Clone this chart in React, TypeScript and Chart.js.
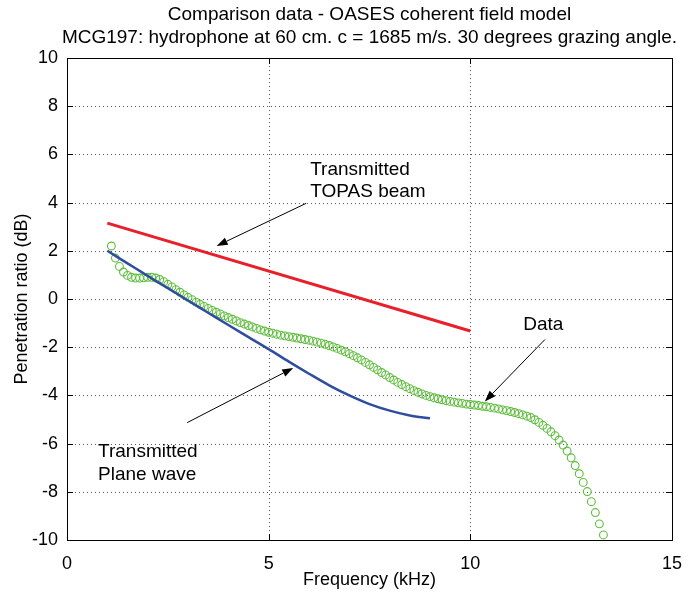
import React, { useEffect, useRef } from "react";
import { Chart, registerables } from "chart.js";

Chart.register(...registerables);

const TITLE_LINES = [
  "Comparison data - OASES coherent field model",
  "MCG197: hydrophone at 60 cm. c = 1685 m/s. 30 degrees grazing angle.",
];
const X_TITLE = "Frequency (kHz)";
const Y_TITLE = "Penetration ratio (dB)";

const X_MIN = 0, X_MAX = 15, X_STEP = 5;
const Y_MIN = -10, Y_MAX = 10, Y_STEP = 2;

// Measured data (green circles)
const dataFreq = [
  1.1, 1.2, 1.3, 1.4, 1.5, 1.6, 1.7, 1.8, 1.9, 2.0,
  2.1, 2.2, 2.3, 2.4, 2.5, 2.6, 2.7, 2.8, 2.9, 3.0,
  3.1, 3.2, 3.3, 3.4, 3.5, 3.6, 3.7, 3.8, 3.9, 4.0,
  4.1, 4.2, 4.3, 4.4, 4.5, 4.6, 4.7, 4.8, 4.9, 5.0,
  5.1, 5.2, 5.3, 5.4, 5.5, 5.6, 5.7, 5.8, 5.9, 6.0,
  6.1, 6.2, 6.3, 6.4, 6.5, 6.6, 6.7, 6.8, 6.9, 7.0,
  7.1, 7.2, 7.3, 7.4, 7.5, 7.6, 7.7, 7.8, 7.9, 8.0,
  8.1, 8.2, 8.3, 8.4, 8.5, 8.6, 8.7, 8.8, 8.9, 9.0,
  9.1, 9.2, 9.3, 9.4, 9.5, 9.6, 9.7, 9.8, 9.9, 10.0,
  10.1, 10.2, 10.3, 10.4, 10.5, 10.6, 10.7, 10.8, 10.9, 11.0,
  11.1, 11.2, 11.3, 11.4, 11.5, 11.6, 11.7, 11.8, 11.9, 12.0,
  12.1, 12.2, 12.3, 12.4, 12.5, 12.6, 12.7, 12.8, 12.9, 13.0,
  13.1, 13.2, 13.3,
];
const dataDb = [
  2.20, 1.70, 1.35, 1.12, 0.98, 0.90, 0.87, 0.87, 0.88, 0.90,
  0.90, 0.87, 0.81, 0.72, 0.61, 0.50, 0.39, 0.28, 0.17, 0.07,
  -0.03, -0.13, -0.22, -0.31, -0.39, -0.47, -0.55, -0.62, -0.70, -0.77,
  -0.84, -0.91, -0.98, -1.04, -1.10, -1.16, -1.22, -1.28, -1.33, -1.38,
  -1.42, -1.46, -1.50, -1.53, -1.56, -1.59, -1.62, -1.65, -1.68, -1.71,
  -1.75, -1.79, -1.83, -1.88, -1.93, -1.99, -2.05, -2.12, -2.19, -2.27,
  -2.35, -2.44, -2.53, -2.63, -2.73, -2.84, -2.94, -3.05, -3.15, -3.26,
  -3.36, -3.46, -3.55, -3.64, -3.72, -3.80, -3.87, -3.94, -4.00, -4.05,
  -4.10, -4.14, -4.18, -4.22, -4.25, -4.28, -4.31, -4.33, -4.36, -4.38,
  -4.40, -4.42, -4.45, -4.47, -4.50, -4.53, -4.56, -4.60, -4.63, -4.67,
  -4.71, -4.76, -4.81, -4.86, -4.92, -5.01, -5.12, -5.24, -5.37, -5.51,
  -5.67, -5.85, -6.06, -6.31, -6.59, -6.91, -7.25, -7.61, -7.99, -8.41,
  -8.86, -9.33, -9.79,
];

// Transmitted plane wave model (blue)
const planeFreq = [1.0, 1.5, 2.0, 2.5, 3.0, 3.5, 4.0, 4.5, 5.0, 5.5, 6.0, 6.5, 7.0, 7.5, 8.0, 8.5, 9.0];
const planeDb = [2.0, 1.48, 0.96, 0.45, -0.06, -0.57, -1.08, -1.58, -2.08, -2.6, -3.1, -3.58, -4.0, -4.36, -4.63, -4.83, -4.95];

// Transmitted TOPAS beam model (red)
const topasFreq = [1.0, 10.0];
const topasDb = [3.15, -1.33];

// Annotations (data coordinates)
const annoTexts = [
  { x: 6.03, y: 5.38, text: "Transmitted" },
  { x: 6.03, y: 4.43, text: "TOPAS beam" },
  { x: 0.77, y: -6.34, text: "Transmitted" },
  { x: 0.77, y: -7.3, text: "Plane wave" },
  { x: 11.31, y: -1.06, text: "Data" },
];
const annoArrows = [
  { x1: 5.93, y1: 3.97, x2: 3.71, y2: 2.2 },
  { x1: 2.98, y1: -5.13, x2: 5.61, y2: -2.86 },
  { x1: 11.85, y1: -1.68, x2: 10.36, y2: -4.25 },
];

const FONT = "Liberation Sans, Arial, Helvetica, sans-serif";
const FS = 18;
const FS_TEXT = 19;

const zip = (xs: number[], ys: number[]) => xs.map((x, i) => ({ x, y: ys[i] }));

const gridPlugin = {
  id: "dotgrid",
  beforeDatasetsDraw(chart: any) {
    const { ctx, chartArea: a, scales } = chart;
    const xs = scales.x, ys = scales.y;
    ctx.save();
    ctx.strokeStyle = "#555";
    ctx.lineWidth = 1;
    ctx.setLineDash([1, 3]);
    ctx.beginPath();
    for (let v = X_MIN + X_STEP; v < X_MAX; v += X_STEP) {
      const px = Math.round(xs.getPixelForValue(v)) + 0.5;
      ctx.moveTo(px, a.top); ctx.lineTo(px, a.bottom);
    }
    for (let v = Y_MIN + Y_STEP; v < Y_MAX; v += Y_STEP) {
      const py = Math.round(ys.getPixelForValue(v)) + 0.5;
      ctx.moveTo(a.left, py); ctx.lineTo(a.right, py);
    }
    ctx.stroke();
    ctx.restore();
  },
};

const decorPlugin = {
  id: "decor",
  afterDraw(chart: any) {
    const { ctx, chartArea: a, scales } = chart;
    const xs = scales.x, ys = scales.y;
    ctx.save();
    // box
    ctx.strokeStyle = "#000";
    ctx.lineWidth = 1;
    ctx.setLineDash([]);
    ctx.strokeRect(Math.round(a.left) + 0.5, Math.round(a.top) + 0.5, Math.round(a.right - a.left), Math.round(a.bottom - a.top));
    // inward ticks
    const TL = 6;
    ctx.beginPath();
    for (let v = X_MIN; v <= X_MAX; v += X_STEP) {
      const px = Math.round(xs.getPixelForValue(v)) + 0.5;
      ctx.moveTo(px, a.bottom); ctx.lineTo(px, a.bottom - TL);
      ctx.moveTo(px, a.top); ctx.lineTo(px, a.top + TL);
    }
    for (let v = Y_MIN; v <= Y_MAX; v += Y_STEP) {
      const py = Math.round(ys.getPixelForValue(v)) + 0.5;
      ctx.moveTo(a.left, py); ctx.lineTo(a.left + TL, py);
      ctx.moveTo(a.right, py); ctx.lineTo(a.right - TL, py);
    }
    ctx.stroke();

    // titles
    ctx.fillStyle = "#000";
    ctx.textAlign = "center";
    ctx.textBaseline = "middle";
    const cx = (a.left + a.right) / 2;
    ctx.font = `${FS_TEXT}px ${FONT}`;
    ctx.fillText(TITLE_LINES[0], cx, 15);
    ctx.fillText(TITLE_LINES[1], cx, 38);
    ctx.font = `${FS}px ${FONT}`;
    ctx.fillText(X_TITLE, cx, 580);
    ctx.save();
    ctx.translate(22, (a.top + a.bottom) / 2);
    ctx.rotate(-Math.PI / 2);
    ctx.fillText(Y_TITLE, 0, 0);
    ctx.restore();

    // annotation texts
    ctx.font = `${FS_TEXT}px ${FONT}`;
    ctx.textAlign = "left";
    for (const t of annoTexts) {
      ctx.fillText(t.text, xs.getPixelForValue(t.x), ys.getPixelForValue(t.y));
    }
    // arrows
    ctx.strokeStyle = "#000";
    ctx.fillStyle = "#000";
    ctx.lineWidth = 1;
    for (const ar of annoArrows) {
      const x1 = xs.getPixelForValue(ar.x1), y1 = ys.getPixelForValue(ar.y1);
      const x2 = xs.getPixelForValue(ar.x2), y2 = ys.getPixelForValue(ar.y2);
      const ang = Math.atan2(y2 - y1, x2 - x1);
      const HL = 11, HW = 4;
      const bx = x2 - HL * Math.cos(ang), by = y2 - HL * Math.sin(ang);
      ctx.beginPath();
      ctx.moveTo(x1, y1);
      ctx.lineTo(bx, by);
      ctx.stroke();
      ctx.beginPath();
      ctx.moveTo(x2, y2);
      ctx.lineTo(bx + HW * Math.sin(ang), by - HW * Math.cos(ang));
      ctx.lineTo(bx - HW * Math.sin(ang), by + HW * Math.cos(ang));
      ctx.closePath();
      ctx.fill();
    }
    ctx.restore();
  },
};

export default function App() {
  const ref = useRef<HTMLCanvasElement | null>(null);
  useEffect(() => {
    if (!ref.current) return;
    const chart = new Chart(ref.current, {
      type: "scatter",
      data: {
        datasets: [
          {
            label: "TOPAS",
            data: zip(topasFreq, topasDb),
            showLine: true,
            borderColor: "#e8202a",
            borderWidth: 3,
            pointRadius: 0,
            fill: false,
          },
          {
            label: "Plane wave",
            data: zip(planeFreq, planeDb),
            showLine: true,
            borderColor: "#2f4da0",
            borderWidth: 2.5,
            pointRadius: 0,
            cubicInterpolationMode: "monotone",
            fill: false,
          },
          {
            label: "Data",
            data: zip(dataFreq, dataDb),
            showLine: false,
            pointStyle: "circle",
            pointRadius: 3.9,
            pointBorderWidth: 1.1,
            pointBorderColor: "#5fbd3e",
            pointBackgroundColor: "rgba(0,0,0,0)",
          },
        ],
      } as any,
      options: {
        responsive: false,
        animation: false,
        devicePixelRatio: 1,
        layout: { padding: { top: 58, right: 16, left: 0, bottom: 0 } },
        plugins: { legend: { display: false }, tooltip: { enabled: false }, title: { display: false } },
        scales: {
          x: {
            type: "linear",
            min: X_MIN,
            max: X_MAX,
            afterFit: (s: any) => { s.height = 54; s.paddingLeft = 0; s.paddingRight = 0; },
            ticks: { stepSize: X_STEP, color: "#000", font: { family: FONT, size: FS }, padding: 13, maxRotation: 0 },
            grid: { display: false, drawTicks: false },
            border: { display: false },
          },
          y: {
            type: "linear",
            min: Y_MIN,
            max: Y_MAX,
            afterFit: (s: any) => { s.width = 67; s.paddingTop = 0; s.paddingBottom = 0; },
            ticks: { stepSize: Y_STEP, color: "#000", font: { family: FONT, size: FS }, padding: 9 },
            grid: { display: false, drawTicks: false },
            border: { display: false },
          },
        },
      } as any,
      plugins: [gridPlugin, decorPlugin],
    });
    return () => chart.destroy();
  }, []);
  return (
    <div style={{ position: "fixed", left: 0, top: 0, width: 688, height: 594, background: "#fff" }}>
      <canvas ref={ref} width={688} height={594} style={{ width: 688, height: 594, display: "block" }} />
    </div>
  );
}
